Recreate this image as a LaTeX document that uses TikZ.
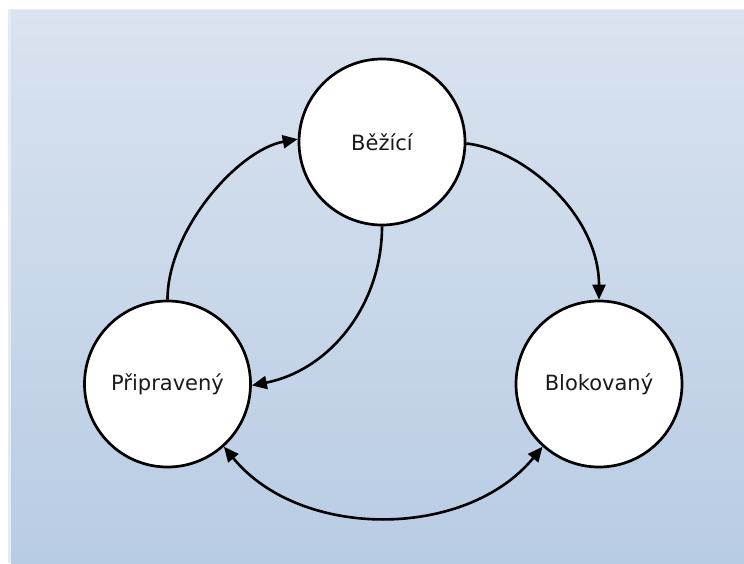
\documentclass[tikz,border=0pt]{standalone}
\usepackage{fontspec}
\setmainfont{DejaVu Sans}
\usetikzlibrary{arrows.meta}
\definecolor{bgedge}{HTML}{E5EBF4}
\definecolor{bgtop}{HTML}{DAE3EF}
\definecolor{bgbottom}{HTML}{B8CCE4}
\definecolor{txt}{HTML}{1A1A1A}
\tikzset{
  state/.style={circle, draw=black, line width=2.7pt, fill=white,
    minimum size=166pt, inner sep=0pt, text=txt,
    font=\fontsize{21}{25}\selectfont},
  conn/.style={line width=2.6pt, draw=black,
    -{Triangle[length=15pt,width=13pt]}},
  bconn/.style={line width=2.6pt, draw=black,
    {Triangle[length=15pt,width=13pt]}-{Triangle[length=15pt,width=13pt]}}
}
\begin{document}
\begin{tikzpicture}[x=1pt,y=1pt]
\useasboundingbox (0,0) rectangle (744,563);
\fill[bgedge] (8,0) rectangle (744,554);
\shade[top color=bgtop, bottom color=bgbottom] (11,0) rectangle (744,552);

\node[state] (run) at (382,421) {Běžící};
\node[state] (ready) at (167.5,179) {Připravený};
\node[state] (blocked) at (599,179) {Blokovaný};

\draw[conn] (run.-1) .. controls (525,413) and (599,348) .. (blocked.north);
\draw[conn] (ready.north) .. controls (167.5,333) and (238,413) .. (run.178);
\draw[conn] (run.south) .. controls (382,258) and (330,193) .. (ready.-1);
\draw[bconn] (ready.-48) .. controls (300,23) and (466,23) .. (blocked.-132);
\end{tikzpicture}
\end{document}
